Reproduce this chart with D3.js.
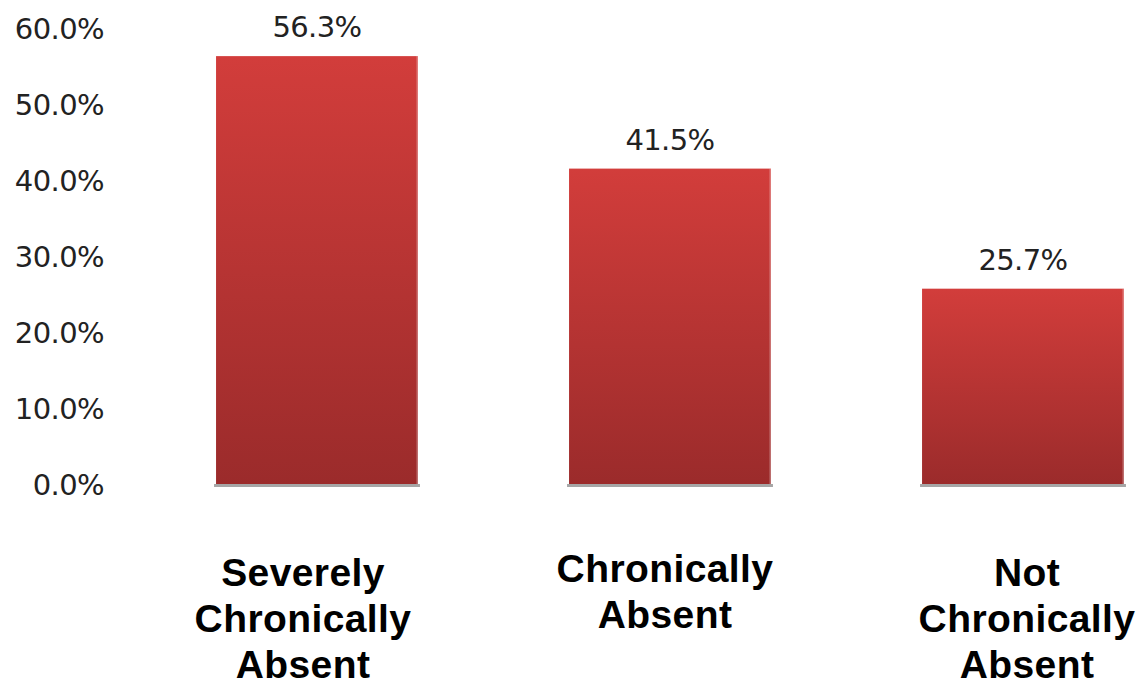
<!DOCTYPE html>
<html><head><meta charset="utf-8">
<script src="https://cdn.jsdelivr.net/npm/d3@7"></script>
<style>body{margin:0;background:#fff}svg{display:block}</style>
</head><body>
<svg id="c" width="1142" height="687"></svg>
<script>
const categories = [["Severely","Chronically","Absent"],["Chronically","Absent"],["Not","Chronically","Absent"]];
const values = [56.3, 41.5, 25.7];
const tickValues = [0,10,20,30,40,50,60];

const svg = d3.select("#c");
const x = d3.scaleBand().domain(d3.range(values.length)).range([140.5,1199.5]).paddingInner(0.428).paddingOuter(0.214);
const xl = d3.scalePoint().domain(d3.range(values.length)).range([303,1027]);
const y = d3.scaleLinear().domain([0,60]).range([484,28]);

const defs = svg.append("defs");
const g = defs.append("linearGradient").attr("id","bg").attr("x1",0).attr("y1",0).attr("x2",0).attr("y2",1);
g.append("stop").attr("offset","0%").attr("stop-color","#d23d3b");
g.append("stop").attr("offset","100%").attr("stop-color","#9b2b2b");

// y axis labels
const yAxis = d3.axisLeft(y).tickValues(tickValues).tickFormat(d=>d3.format(".1f")(d)+"%").tickSize(0).tickPadding(0);
const ya = svg.append("g").attr("transform","translate(104,0)").call(yAxis);
ya.select(".domain").remove();
ya.selectAll("text").attr("font-family","DejaVu Sans").attr("font-size",29).attr("fill","#222").attr("dy","0.36em").attr("letter-spacing","-0.6");

// bars
const bars = svg.append("g").selectAll("g").data(values).join("g");
bars.append("rect").attr("x",(d,i)=>x(i)).attr("y",d=>y(d)).attr("width",x.bandwidth()).attr("height",d=>y(0)-y(d)).attr("fill","url(#bg)");
bars.append("rect").attr("x",(d,i)=>x(i)+x.bandwidth()-1.5).attr("y",d=>y(d)).attr("width",1.5).attr("height",d=>y(0)-y(d)).attr("fill","#fff").attr("opacity",0.3);
bars.append("rect").attr("x",(d,i)=>x(i)-2).attr("y",y(0)).attr("width",x.bandwidth()+4).attr("height",3).attr("fill","#a6a6a6");
bars.append("text").attr("x",(d,i)=>x(i)+x.bandwidth()/2).attr("y",d=>y(d)-19)
  .attr("text-anchor","middle").attr("font-family","DejaVu Sans").attr("font-size",29).attr("fill","#222").attr("letter-spacing","-0.6")
  .text(d=>d3.format(".1f")(d)+"%");

// category labels
const cl = svg.append("g").selectAll("text").data(categories).join("text")
  .attr("text-anchor","middle").attr("font-family","Liberation Sans, Arial, sans-serif").attr("font-weight","bold")
  .attr("font-size",39).attr("letter-spacing","0.4").attr("fill","#000");
cl.each(function(lines,i){
  const t = d3.select(this);
  const start = lines.length===3 ? 586 : 582;
  lines.forEach((ln,j)=>{
    t.append("tspan").attr("x",xl(i)).attr("y",start+j*46).text(ln);
  });
});
</script>
</body></html>
